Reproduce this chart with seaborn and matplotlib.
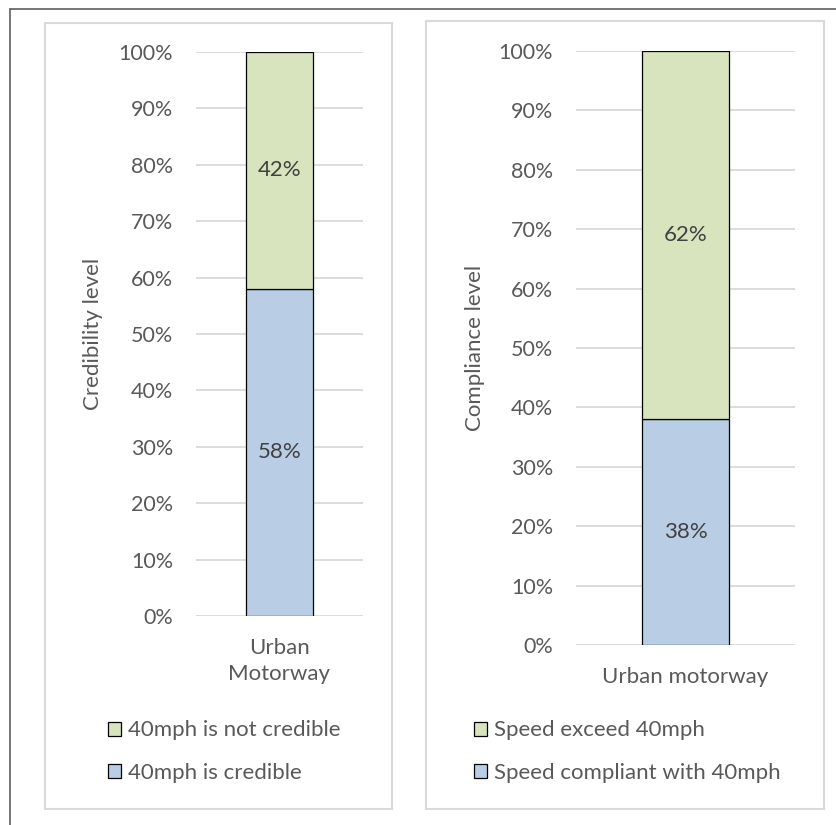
import matplotlib
matplotlib.use("Agg")
import matplotlib.pyplot as plt
from matplotlib.patches import Rectangle, Patch
from matplotlib.lines import Line2D
from matplotlib.ticker import PercentFormatter
import seaborn as sns
import pandas as pd

# data
left_cat = ["Urban\nMotorway"]
left_low = [58]      # 40mph is credible
left_high = [42]     # 40mph is not credible
left_names = ["40mph is not credible", "40mph is credible"]

right_cat = ["Urban motorway"]
right_low = [38]     # speed compliant
right_high = [62]    # speed exceed
right_names = ["Speed exceed 40mph", "Speed compliant with 40mph"]

green = "#d7e4bd"
blue = "#b9cde5"
txt = "#595959"
FS = 16

sns.set_style("white")
plt.rcParams["font.family"] = ["Lato", "DejaVu Sans"]

W, H = 836, 825
fig = plt.figure(figsize=(W / 100, H / 100), dpi=100)


def fx(px):
    return px / W


def fy(py):
    return 1 - py / H


# outer frame and panel boxes
fig.add_artist(Line2D([fx(10), 1], [fy(9), fy(9)], color="#6b6b6b", lw=1.3))
fig.add_artist(Line2D([fx(10), fx(10)], [fy(9), 0], color="#6b6b6b", lw=1.3))
fig.add_artist(Rectangle((fx(45), fy(809)), fx(392) - fx(45), fy(23) - fy(809),
                         fill=False, edgecolor="#d9d9d9", lw=1.5))
fig.add_artist(Rectangle((fx(426), fy(809)), fx(824) - fx(426), fy(21) - fy(809),
                         fill=False, edgecolor="#d9d9d9", lw=1.5))


def panel(rect, cats, low, high, names, ylabel, ylab_x, leg_x):
    ax = fig.add_axes(rect)
    df = pd.DataFrame({"cat": cats, "low": low, "high": high})
    sns.barplot(data=df, x="cat", y="low", color=blue, width=0.4,
                edgecolor="black", linewidth=0.9, saturation=1, ax=ax)
    sns.barplot(data=df, x="cat", y="high", bottom=df["low"], color=green, width=0.4,
                edgecolor="black", linewidth=0.9, saturation=1, ax=ax)
    ax.set_xlim(-0.5, 0.5)
    ax.set_ylim(0, 100)
    ax.set_yticks(range(0, 101, 10))
    ax.yaxis.set_major_formatter(PercentFormatter(decimals=0))
    ax.grid(axis="y", color="#d9d9d9", lw=1.3)
    ax.set_axisbelow(True)
    for s in ax.spines.values():
        s.set_visible(False)
    ax.tick_params(axis="y", length=0, pad=16.5, labelsize=FS - 0.5, labelcolor=txt)
    ax.tick_params(axis="x", length=0, pad=15.5, labelsize=FS, labelcolor=txt)
    for lbl in ax.get_xticklabels():
        lbl.set_linespacing(1.4)
    ax.set_xlabel("")
    ax.set_ylabel(ylabel, fontsize=FS, color=txt)
    ax.yaxis.set_label_coords(ylab_x, 0.5)
    for i in range(len(cats)):
        ax.text(i, low[i] / 2, f"{low[i]}%", ha="center", va="center",
                fontsize=FS, color="#404040")
        ax.text(i, low[i] + high[i] / 2, f"{high[i]}%", ha="center", va="center",
                fontsize=FS, color="#404040")
    handles = [Patch(facecolor=green, edgecolor="black", lw=0.9, label=names[0]),
               Patch(facecolor=blue, edgecolor="black", lw=0.9, label=names[1])]
    fig.legend(handles=handles, loc="center left", bbox_to_anchor=(leg_x, fy(751.5)),
               frameon=False, fontsize=FS, labelcolor=txt, handlelength=0.6,
               handleheight=0.6, handletextpad=0.3, labelspacing=1.0,
               borderpad=0, borderaxespad=0)
    return ax


panel([fx(196), fy(616), fx(363) - fx(196), fy(52) - fy(616)],
      left_cat, left_low, left_high, left_names, "Credibility level",
      (103 - 196) / 167, fx(108))
panel([fx(576), fy(645), fx(795) - fx(576), fy(51) - fy(645)],
      right_cat, right_low, right_high, right_names, "Compliance level",
      (485 - 576) / 219, fx(474))

fig.savefig("out.png", dpi=100)
